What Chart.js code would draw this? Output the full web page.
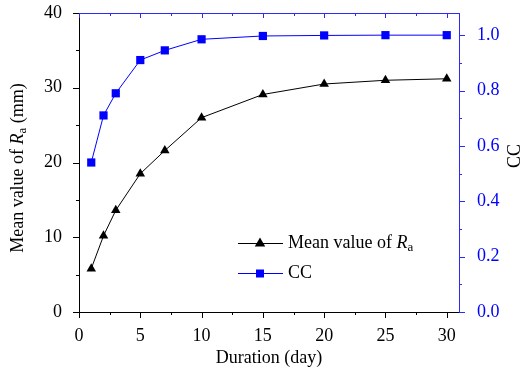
<!DOCTYPE html>
<html>
<head>
<meta charset="utf-8">
<script src="https://cdn.jsdelivr.net/npm/chart.js"></script>
<style>
  body { margin: 0; background: #fff; }
  canvas { display: block; }
</style>
</head>
<body>
<canvas id="myChart" width="523" height="371"></canvas>
<script>
// data
var days = [1, 2, 3, 5, 7, 10, 15, 20, 25, 30];
var raMean = [5.8, 10.2, 13.6, 18.5, 21.6, 26.0, 29.1, 30.5, 31.0, 31.2];
var ccValues = [0.54, 0.71, 0.79, 0.91, 0.945, 0.985, 0.997, 0.999, 1.0, 1.0];
var xTicks = [0, 5, 10, 15, 20, 25, 30];
var raTicks = [0, 10, 20, 30, 40];
var ccTicks = [0, 0.2, 0.4, 0.6, 0.8, 1.0];

var FONT = "'Liberation Serif', 'Times New Roman', serif";
var BLUE = "#0000ff";
var AXIS_BLUE = "#2a2aff";

function toPoints(xs, ys) {
    return xs.map(function (x, i) { return { x: x, y: ys[i] }; });
}

// "Mean value of R_a" with italic R and subscript a
function raParts(suffix) {
    return [
        { t: "Mean value of ", f: "18px " + FONT, dy: 0 },
        { t: "R", f: "italic 18px " + FONT, dy: 0 },
        { t: "a", f: "13px " + FONT, dy: 5 },
        { t: suffix, f: "18px " + FONT, dy: 0 }
    ];
}
function partsWidth(ctx, parts) {
    var w = 0;
    parts.forEach(function (p) { ctx.font = p.f; w += ctx.measureText(p.t).width; });
    return w;
}
function drawParts(ctx, parts, x, y) {
    parts.forEach(function (p) {
        ctx.font = p.f;
        ctx.fillText(p.t, x, y + p.dy);
        x += ctx.measureText(p.t).width;
    });
}

function triangle(ctx, x, y, r) {
    ctx.beginPath();
    ctx.moveTo(x, y - r);
    ctx.lineTo(x + r * 0.95, y + r * 0.65);
    ctx.lineTo(x - r * 0.95, y + r * 0.65);
    ctx.closePath();
    ctx.fill();
}

// keep label overhang from pushing the plot area around
function noPad(s) {
    s.paddingTop = 0;
    s.paddingBottom = 0;
    s.paddingLeft = 0;
    s.paddingRight = 0;
}

var decor = {
    id: "decor",
    afterDraw: function (chart) {
        var ctx = chart.ctx, a = chart.chartArea;
        var sx = chart.scales.x, sy = chart.scales.y, sy1 = chart.scales.y1;
        ctx.save();
        ctx.lineWidth = 1;

        // top frame line (blue) with inward ticks
        ctx.strokeStyle = AXIS_BLUE;
        ctx.beginPath();
        ctx.moveTo(a.left, a.top + 0.5);
        ctx.lineTo(a.right, a.top + 0.5);
        for (var v = 0; v <= 30; v += 2.5) {
            var px = Math.round(sx.getPixelForValue(v)) + 0.5;
            ctx.moveTo(px, a.top);
            ctx.lineTo(px, a.top + (v % 5 === 0 ? 5 : 3));
        }
        ctx.stroke();

        // bottom ticks
        ctx.strokeStyle = "#000";
        ctx.beginPath();
        for (var v2 = 0; v2 <= 30; v2 += 2.5) {
            var bx = Math.round(sx.getPixelForValue(v2)) + 0.5;
            ctx.moveTo(bx, a.bottom);
            ctx.lineTo(bx, a.bottom + (v2 % 5 === 0 ? 6 : 3));
        }
        // left ticks
        for (var v3 = 0; v3 <= 40; v3 += 5) {
            var ly = Math.round(sy.getPixelForValue(v3)) + 0.5;
            ctx.moveTo(a.left, ly);
            ctx.lineTo(a.left - (v3 % 10 === 0 ? 6 : 3), ly);
        }
        ctx.stroke();

        // right ticks
        ctx.strokeStyle = AXIS_BLUE;
        ctx.beginPath();
        for (var k = 0; k <= 10; k++) {
            var ry = Math.round(sy1.getPixelForValue(k / 10)) + 0.5;
            ctx.moveTo(a.right, ry);
            ctx.lineTo(a.right + (k % 2 === 0 ? 6 : 3), ry);
        }
        ctx.stroke();

        // axis titles
        ctx.fillStyle = "#000";
        ctx.textBaseline = "middle";
        ctx.textAlign = "center";
        ctx.font = "18px " + FONT;
        ctx.fillText("Duration (day)", (a.left + a.right) / 2, 358);

        ctx.save();
        ctx.translate(515, 156);
        ctx.rotate(-Math.PI / 2);
        ctx.fillText("CC", 0, 0);
        ctx.restore();

        ctx.textAlign = "left";
        var lp = raParts(" (mm)");
        var lw = partsWidth(ctx, lp);
        ctx.save();
        ctx.translate(18, 168);
        ctx.rotate(-Math.PI / 2);
        drawParts(ctx, lp, -lw / 2, 0);
        ctx.restore();

        // legend
        var lx0 = 238, lx1 = 283, mx = 260;
        ctx.strokeStyle = "#000";
        ctx.beginPath();
        ctx.moveTo(lx0, 243.5); ctx.lineTo(lx1, 243.5);
        ctx.stroke();
        ctx.fillStyle = "#000";
        triangle(ctx, mx, 243, 5.5);
        drawParts(ctx, raParts(""), 288, 243);

        ctx.strokeStyle = BLUE;
        ctx.beginPath();
        ctx.moveTo(lx0, 273.5); ctx.lineTo(lx1, 273.5);
        ctx.stroke();
        ctx.fillStyle = BLUE;
        ctx.fillRect(mx - 4, 269.5, 8, 8);
        ctx.fillStyle = "#000";
        ctx.font = "18px " + FONT;
        ctx.fillText("CC", 288, 273);

        ctx.restore();
    }
};

new Chart("myChart", {
    type: "line",
    data: {
        datasets: [{
            label: "Mean value of Ra",
            data: toPoints(days, raMean),
            yAxisID: "y",
            borderColor: "#000",
            backgroundColor: "#000",
            borderWidth: 1,
            pointStyle: "triangle",
            pointRadius: 5.5,
            pointBorderWidth: 0
        }, {
            label: "CC",
            data: toPoints(days, ccValues),
            yAxisID: "y1",
            borderColor: BLUE,
            backgroundColor: BLUE,
            borderWidth: 1,
            pointStyle: "rect",
            pointRadius: 5.8,
            pointBorderWidth: 0
        }]
    },
    options: {
        responsive: false,
        animation: false,
        layout: { padding: { top: 13, left: 0, right: 0, bottom: 0 } },
        plugins: { legend: { display: false }, tooltip: { enabled: false } },
        scales: {
            x: {
                type: "linear",
                min: 0,
                max: 31,
                afterBuildTicks: function (s) { s.ticks = xTicks.map(function (v) { return { value: v }; }); },
                afterFit: function (s) { s.height = 59; noPad(s); },
                grid: { display: false },
                border: { color: "#000", width: 1 },
                ticks: { color: "#000", padding: 5, maxRotation: 0, font: { family: FONT, size: 18 } }
            },
            y: {
                position: "left",
                min: 0,
                max: 40,
                afterBuildTicks: function (s) { s.ticks = raTicks.map(function (v) { return { value: v }; }); },
                afterFit: function (s) { s.width = 79; noPad(s); },
                grid: { display: false },
                border: { color: "#000", width: 1 },
                ticks: { color: "#000", padding: 9, font: { family: FONT, size: 18 } }
            },
            y1: {
                position: "right",
                min: 0,
                max: 1.08,
                afterBuildTicks: function (s) { s.ticks = ccTicks.map(function (v) { return { value: v }; }); },
                afterFit: function (s) { s.width = 64; noPad(s); },
                grid: { display: false },
                border: { color: AXIS_BLUE, width: 1 },
                ticks: {
                    color: BLUE,
                    padding: 10,
                    font: { family: FONT, size: 18 },
                    callback: function (v) { return v.toFixed(1); }
                }
            }
        }
    },
    plugins: [decor]
});
</script>
</body>
</html>
